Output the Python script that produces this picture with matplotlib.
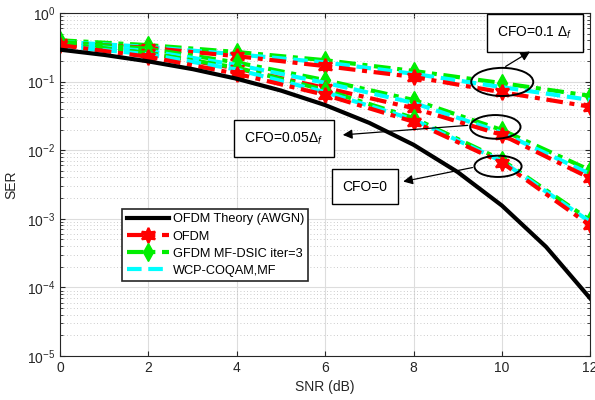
import numpy as np
import matplotlib
matplotlib.use("Agg")
import matplotlib.pyplot as plt
from matplotlib.patches import Ellipse

plt.rcParams['font.family'] = ['Liberation Sans', 'DejaVu Sans']
plt.rcParams['mathtext.fontset'] = 'custom'
plt.rcParams['mathtext.rm'] = 'Liberation Sans'
plt.rcParams['mathtext.it'] = 'Liberation Sans:italic'

# theory curve (1 dB steps)
snr_theory = [0, 1, 2, 3, 4, 5, 6, 7, 8, 9, 10, 11, 12]
ser_theory = [0.292, 0.245, 0.197, 0.152, 0.110, 0.074, 0.0455, 0.025,
              0.012, 0.0048, 0.00156, 0.00039, 0.000069]

snr = [0, 2, 4, 6, 8, 10, 12]

# CFO = 0.1 Delta_f
ofdm_01 = [0.37, 0.31, 0.235, 0.168, 0.117, 0.070, 0.043]
gfdm_01 = [0.40, 0.34, 0.27, 0.205, 0.143, 0.095, 0.062]
wcp_01 = [0.38, 0.32, 0.25, 0.19, 0.13, 0.083, 0.054]

# CFO = 0.05 Delta_f
ofdm_005 = [0.35, 0.26, 0.155, 0.081, 0.041, 0.0167, 0.0039]
gfdm_005 = [0.38, 0.30, 0.19, 0.105, 0.054, 0.0197, 0.0051]
wcp_005 = [0.35, 0.28, 0.175, 0.096, 0.049, 0.018, 0.0045]

# CFO = 0
ofdm_0 = [0.34, 0.23, 0.13, 0.064, 0.026, 0.0066, 0.0008]
gfdm_0 = [0.36, 0.26, 0.16, 0.075, 0.0295, 0.0072, 0.00095]
wcp_0 = [0.33, 0.25, 0.15, 0.070, 0.028, 0.0069, 0.0009]

hexagram = (6, 1, 0)
dashdot = (0, (4, 1.6, 1.2, 1.6))

fig = plt.figure(figsize=(5.95, 4.0), dpi=100)
ax = fig.add_axes([0.101, 0.11, 0.891, 0.8575])

ax.semilogy(snr_theory, ser_theory, color='black', lw=3, label='OFDM Theory (AWGN)', zorder=3)

groups = [(ofdm_01, gfdm_01, wcp_01), (ofdm_005, gfdm_005, wcp_005), (ofdm_0, gfdm_0, wcp_0)]
for i, (o, g, w) in enumerate(groups):
    ax.semilogy(snr, g, color='#00ee00', ls=dashdot, lw=3, marker='d', ms=9,
                mfc='#00ee00', mec='#00ee00', label='GFDM MF-DSIC iter=3' if i == 0 else None)
    ax.semilogy(snr, w, color='cyan', ls=(0, (3.5, 1.6)), lw=3, label='WCP-COQAM,MF' if i == 0 else None)
    ax.semilogy(snr, o, color='red', ls=dashdot, lw=3, marker=hexagram, ms=11, mew=1.5,
                mfc='red', mec='red', label='OFDM' if i == 0 else None)

ax.set_xlim(0, 12)
ax.set_ylim(1e-5, 1)
ax.set_xticks([0, 2, 4, 6, 8, 10, 12])
ax.set_xlabel('SNR (dB)', fontsize=10, color='#262626')
ax.set_ylabel('SER', fontsize=10, color='#262626', labelpad=6)
ax.tick_params(which='both', direction='in', top=True, right=True, colors='#262626', labelsize=10)
ax.tick_params(which='minor', length=2.5)
ax.grid(True, which='major', color='#dddddd', lw=0.8, ls='-')
ax.grid(True, which='minor', axis='y', color='#bbbbbb', lw=0.6, ls=(0, (1, 3)))
for s in ax.spines.values():
    s.set_color('#262626')

handles, labels = ax.get_legend_handles_labels()
order = ['OFDM Theory (AWGN)', 'OFDM', 'GFDM MF-DSIC iter=3', 'WCP-COQAM,MF']
hl = [handles[labels.index(l)] for l in order]
leg = ax.legend(hl, order, loc='upper left', bbox_to_anchor=(0.117, 0.4286), borderaxespad=0,
                fontsize=9.2, fancybox=False, framealpha=1, edgecolor='#262626',
                handlelength=3.3, handletextpad=0.3, labelspacing=0.4, borderpad=0.35)
leg.get_frame().set_linewidth(1.2)

# ellipses around groups
for cx, cy, w, h in [(0.834, 0.799, 0.117, 0.082), (0.821, 0.668, 0.095, 0.069), (0.826, 0.553, 0.089, 0.062)]:
    ax.add_patch(Ellipse((cx, cy), w, h, transform=ax.transAxes, fill=False, ec='black', lw=1.4, zorder=5))

# labels with arrows
boxes = [('CFO=0.1 $\\Delta_f$', (0.896, 0.942), (0.836, 0.840), (0.891, 0.892)),
         ('CFO=0.05$\\Delta_f$', (0.422, 0.633), (0.774, 0.673), (0.528, 0.644)),
         ('CFO=0', (0.575, 0.493), (0.783, 0.551), (0.642, 0.507))]
for txt, pos, tail, head in boxes:
    ax.text(pos[0], pos[1], txt, transform=ax.transAxes, ha='center', va='center', fontsize=10,
            bbox=dict(boxstyle='square,pad=0.75', fc='white', ec='black', lw=1), zorder=6)
    ax.annotate('', xy=head, xytext=tail, xycoords='axes fraction', textcoords='axes fraction',
                arrowprops=dict(arrowstyle='-|>', color='black', lw=0.9, mutation_scale=14), zorder=6)

fig.savefig('out.png', dpi=100)
